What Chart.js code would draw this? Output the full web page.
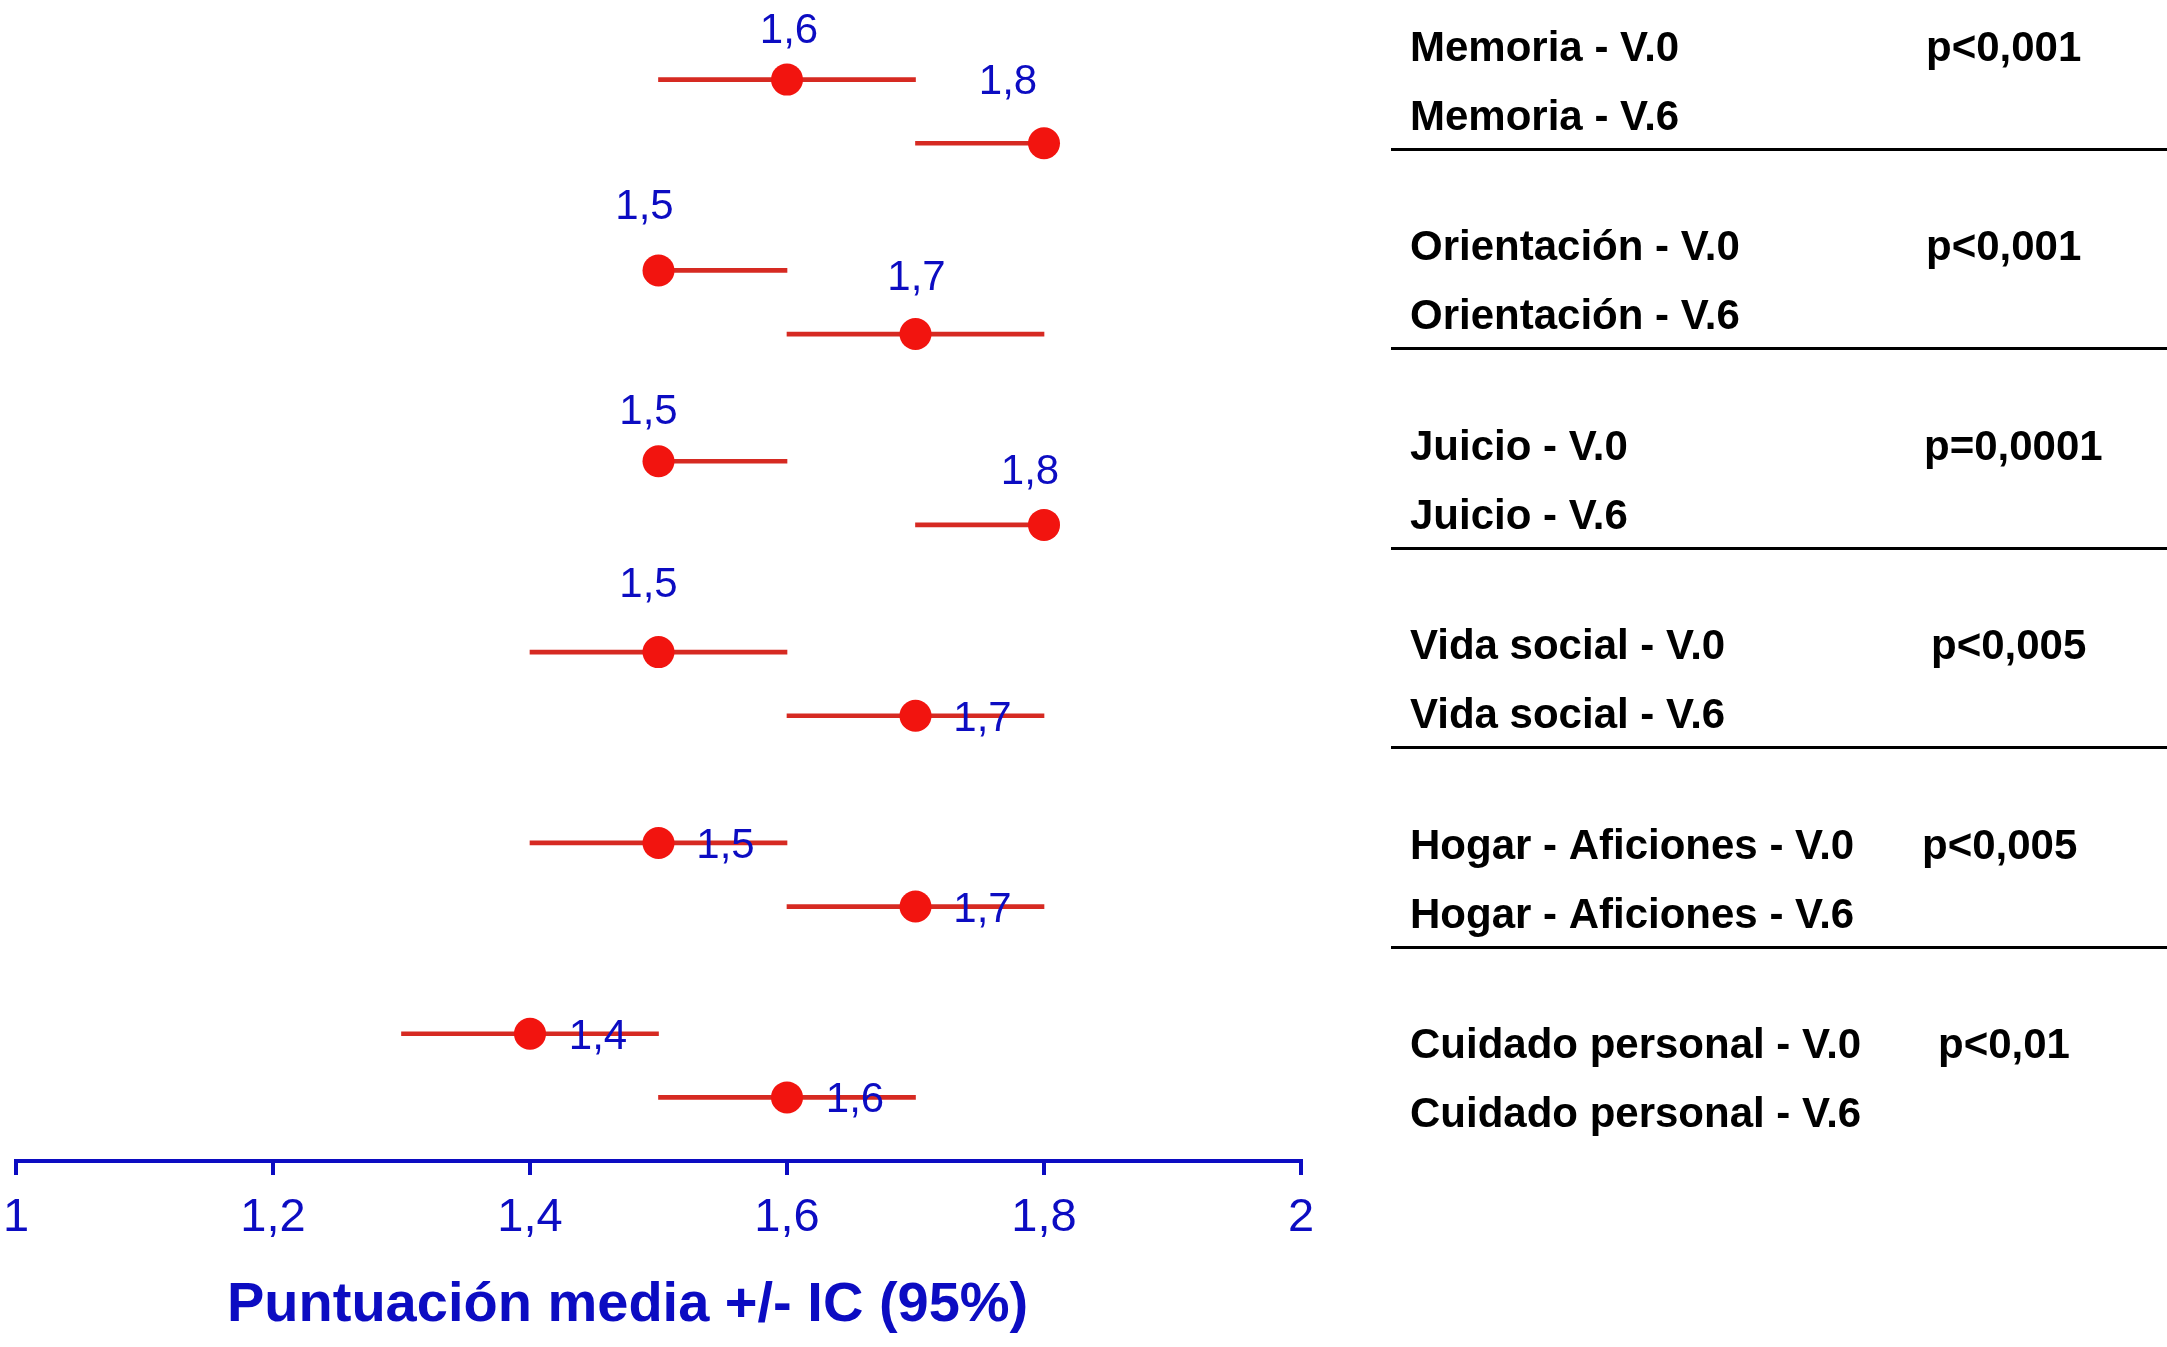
<!DOCTYPE html>
<html>
<head>
<meta charset="utf-8">
<script src="https://cdn.jsdelivr.net/npm/chart.js@4"></script>
<style>
    html, body { margin: 0; padding: 0; background: #ffffff; }
    #wrap { width: 2167px; height: 1347px; position: relative; }
</style>
</head>
<body>
<div id="wrap"><canvas id="ciChart"></canvas></div>
<script>
// datos
const domains = ['Memoria', 'Orientación', 'Juicio', 'Vida social', 'Hogar - Aficiones', 'Cuidado personal'];
const visits = ['V.0', 'V.6'];
const meanV0 = [1.6, 1.5, 1.5, 1.5, 1.5, 1.4];
const lowV0 = [1.5, 1.5, 1.5, 1.4, 1.4, 1.3];
const highV0 = [1.7, 1.6, 1.6, 1.6, 1.6, 1.5];
const meanV6 = [1.8, 1.7, 1.8, 1.7, 1.7, 1.6];
const lowV6 = [1.7, 1.6, 1.7, 1.6, 1.6, 1.5];
const highV6 = [1.8, 1.8, 1.8, 1.8, 1.8, 1.7];
const pValues = ['p<0,001', 'p<0,001', 'p=0,0001', 'p<0,005', 'p<0,005', 'p<0,01'];
const xTicks = [1, 1.2, 1.4, 1.6, 1.8, 2];
const axisTitle = 'Puntuación media +/- IC (95%)';

// estilo
const BLUE = '#0c0cc2';
const RED_DOT = '#f2140f';
const RED_LINE = '#d62a22';
const FONT = '"Liberation Sans", Arial, Helvetica, sans-serif';

// posición de las etiquetas de valor respecto al punto (px)
const labelOffV0 = [[2, -52], [-14, -66], [-10, -52], [-10, -70], [67, 0], [68, 0]];
const labelOffV6 = [[-36, -64], [1, -59], [-14, -56], [67, 0], [67, 0], [68, 0]];

// tabla de la derecha (px)
const table = {
    textX: 1410,
    pX: [1926, 1926, 1924, 1931, 1922, 1938],
    firstRow: 46,
    rowGap: 69,
    groupGap: 199.4,
    sepOffset: 103,
    sepX0: 1391,
    sepX1: 2167
};

// título del eje (px)
const titlePos = { x: 227, baseline: 1321 };

function fmt(v) {
    return String(Number(v.toFixed(1))).replace('.', ',');
}

// filas: cada dominio ocupa 3 unidades (V.0, V.6, hueco)
const rows = [];
domains.forEach((d, i) => {
    rows.push({ y: i * 3, mean: meanV0[i], low: lowV0[i], high: highV0[i], off: labelOffV0[i] });
    rows.push({ y: i * 3 + 1, mean: meanV6[i], low: lowV6[i], high: highV6[i], off: labelOffV6[i] });
});

const valueLabels = {
    id: 'valueLabels',
    afterDatasetsDraw(chart) {
        const meta = chart.getDatasetMeta(1);
        const ctx = chart.ctx;
        ctx.save();
        ctx.fillStyle = BLUE;
        ctx.font = '42px ' + FONT;
        ctx.textAlign = 'center';
        ctx.textBaseline = 'alphabetic';
        meta.data.forEach((pt, i) => {
            const r = rows[i];
            ctx.fillText(fmt(r.mean), pt.x + r.off[0], pt.y + r.off[1] + 15);
        });
        ctx.restore();
    }
};

const sideTable = {
    id: 'sideTable',
    afterDraw(chart) {
        const ctx = chart.ctx;
        ctx.save();
        // título del eje x
        ctx.fillStyle = BLUE;
        ctx.font = 'bold 56px ' + FONT;
        ctx.textAlign = 'left';
        ctx.textBaseline = 'alphabetic';
        ctx.fillText(axisTitle, titlePos.x, titlePos.baseline);

        // tabla
        ctx.fillStyle = '#000000';
        ctx.font = 'bold 42px ' + FONT;
        domains.forEach((d, i) => {
            const top = table.firstRow + i * table.groupGap;
            ctx.fillText(d + ' - ' + visits[0], table.textX, top + 15);
            ctx.fillText(d + ' - ' + visits[1], table.textX, top + table.rowGap + 15);
            ctx.fillText(pValues[i], table.pX[i], top + 15);
            if (i < domains.length - 1) {
                const ys = Math.round(top + table.sepOffset) + 0.5;
                ctx.strokeStyle = '#000000';
                ctx.lineWidth = 3;
                ctx.beginPath();
                ctx.moveTo(table.sepX0, ys);
                ctx.lineTo(table.sepX1, ys);
                ctx.stroke();
            }
        });
        ctx.restore();
    }
};

new Chart(document.getElementById('ciChart'), {
    type: 'scatter',
    data: {
        datasets: [{
            type: 'bar',
            indexAxis: 'y',
            label: 'IC 95%',
            data: rows.map(r => ({ x: [r.low, r.high], y: r.y })),
            backgroundColor: RED_LINE,
            borderWidth: 0,
            barThickness: 4,
            order: 2
        }, {
            type: 'scatter',
            label: 'Media',
            data: rows.map(r => ({ x: r.mean, y: r.y })),
            backgroundColor: RED_DOT,
            borderColor: RED_DOT,
            borderWidth: 0,
            pointRadius: 16,
            pointHoverRadius: 16,
            order: 1
        }]
    },
    options: {
        responsive: true,
        maintainAspectRatio: false,
        animation: false,
        events: [],
        layout: {
            padding: { top: 15, right: 866, left: 0, bottom: 0 }
        },
        plugins: {
            legend: { display: false },
            tooltip: { enabled: false }
        },
        scales: {
            x: {
                type: 'linear',
                position: 'bottom',
                min: 1,
                max: 2,
                offset: false,
                afterBuildTicks: scale => {
                    scale.ticks = xTicks.map(v => ({ value: v }));
                },
                afterFit: scale => {
                    scale.paddingLeft = 0;
                    scale.paddingRight = 0;
                    scale.height = 186;
                },
                grid: {
                    offset: false,
                    drawOnChartArea: false,
                    drawTicks: true,
                    tickLength: 14,
                    color: BLUE,
                    lineWidth: 4
                },
                border: { display: true, color: BLUE, width: 4 },
                ticks: {
                    color: BLUE,
                    font: { family: FONT, size: 47 },
                    padding: 15,
                    maxRotation: 0,
                    autoSkip: false,
                    callback: v => fmt(v)
                }
            },
            y: {
                type: 'linear',
                display: false,
                reverse: true,
                offset: false,
                grid: { offset: false },
                min: -1,
                max: 17
            }
        }
    },
    plugins: [valueLabels, sideTable]
});
</script>
</body>
</html>
